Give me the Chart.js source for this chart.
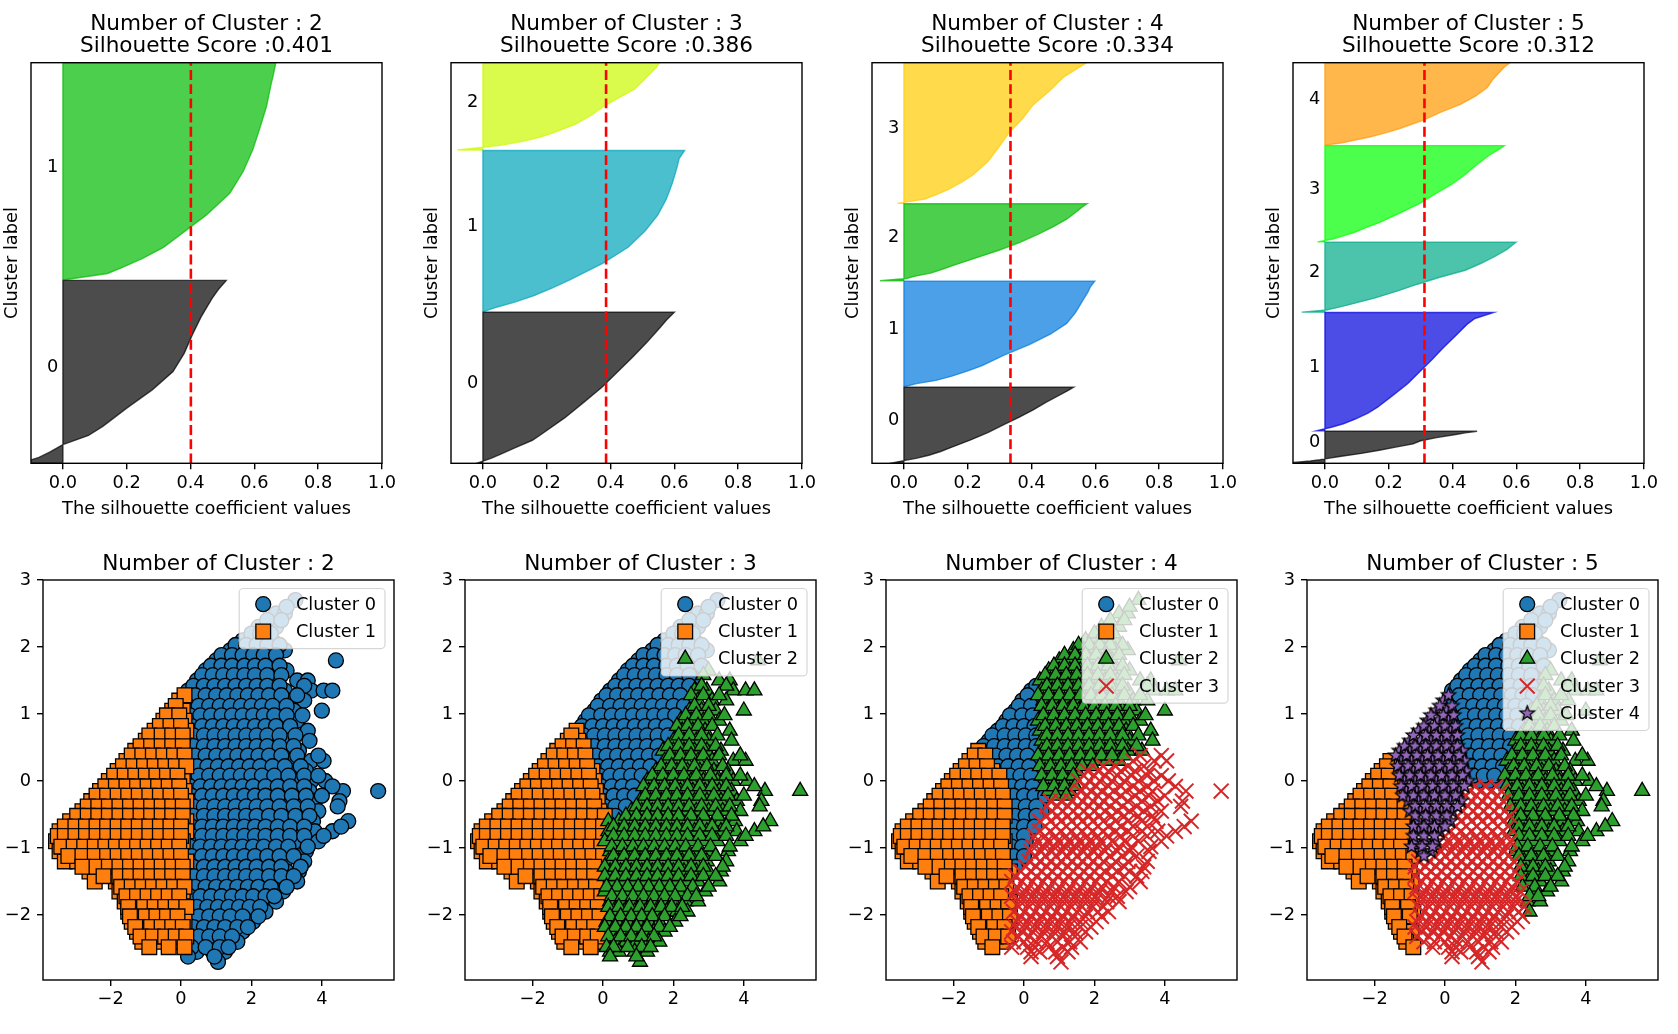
<!DOCTYPE html>
<html>
<head>
<meta charset="utf-8">
<title>Silhouette analysis for KMeans</title>
<script src="https://cdn.jsdelivr.net/npm/chart.js@4.4.1/dist/chart.umd.min.js"></script>
<style>
  html, body { margin: 0; padding: 0; background: #fff; }
  #page { position: relative; width: 1678px; height: 1034px; overflow: hidden; background: #fff; }
  #page canvas { position: absolute; }
</style>
</head>
<body>
<div id="page"></div>
<script>
// ---------- data ----------
const clusterCounts = [2, 3, 4, 5];
const silScores = [0.401, 0.386, 0.334, 0.312];
const nSamples = 8950;

// silhouette profile: sorted values sampled at these fractions of each cluster
const silQuantiles = [0, 0.03, 0.06, 0.1, 0.15, 0.2, 0.3, 0.4, 0.5, 0.6, 0.7, 0.8, 0.9, 0.95, 1];

const silSizesK2 = [4090, 4860];
const silValuesK2 = [
  [-0.13, -0.075, -0.04, 0.0, 0.08, 0.125, 0.20, 0.28, 0.345, 0.38, 0.405, 0.433, 0.467, 0.487, 0.512],
  [0.0, 0.14, 0.19, 0.25, 0.315, 0.36, 0.45, 0.523, 0.565, 0.595, 0.617, 0.638, 0.652, 0.66, 0.667]
];
const silSizesK3 = [3380, 3620, 1950];
const silValuesK3 = [
  [-0.015, 0.025, 0.058, 0.10, 0.155, 0.19, 0.257, 0.315, 0.372, 0.42, 0.468, 0.514, 0.556, 0.576, 0.60],
  [0.0, 0.045, 0.10, 0.16, 0.22, 0.274, 0.375, 0.455, 0.508, 0.548, 0.575, 0.594, 0.609, 0.615, 0.632],
  [-0.08, -0.005, 0.065, 0.125, 0.18, 0.222, 0.292, 0.34, 0.377, 0.425, 0.475, 0.503, 0.53, 0.543, 0.552]
];
const silSizesK4 = [1700, 2370, 1730, 3150];
const silValuesK4 = [
  [-0.035, 0.0, 0.038, 0.078, 0.115, 0.146, 0.207, 0.263, 0.31, 0.36, 0.405, 0.445, 0.49, 0.512, 0.532],
  [0.0, 0.04, 0.10, 0.15, 0.20, 0.245, 0.314, 0.393, 0.46, 0.51, 0.537, 0.557, 0.577, 0.585, 0.598],
  [-0.075, 0.008, 0.035, 0.084, 0.12, 0.155, 0.228, 0.30, 0.364, 0.418, 0.467, 0.51, 0.542, 0.556, 0.574],
  [-0.02, 0.065, 0.10, 0.14, 0.18, 0.215, 0.264, 0.297, 0.328, 0.37, 0.404, 0.455, 0.50, 0.535, 0.57]
];
const silSizesK5 = [710, 2660, 1570, 2165, 1845];
const silValuesK5 = [
  [-0.12, -0.08, -0.045, -0.015, 0.015, 0.046, 0.114, 0.17, 0.222, 0.276, 0.30, 0.35, 0.41, 0.44, 0.477],
  [-0.026, 0.02, 0.058, 0.095, 0.135, 0.165, 0.213, 0.26, 0.297, 0.335, 0.37, 0.408, 0.445, 0.47, 0.529],
  [-0.073, 0.005, 0.034, 0.07, 0.112, 0.155, 0.226, 0.29, 0.36, 0.44, 0.49, 0.533, 0.571, 0.585, 0.599],
  [-0.023, 0.025, 0.055, 0.093, 0.13, 0.17, 0.235, 0.297, 0.347, 0.398, 0.44, 0.475, 0.515, 0.54, 0.5625],
  [0.0, 0.055, 0.09, 0.14, 0.19, 0.232, 0.305, 0.362, 0.426, 0.473, 0.508, 0.526, 0.55, 0.562, 0.578]
];
const silTicks = [0, 0.2, 0.4, 0.6, 0.8, 1.0];

// PCA scatter: rows of points (y of the row, x of each point)
const cloudY = [2.7, 2.5, 2.3, 2.1, 1.95, 1.8, 1.65, 1.5, 1.35, 1.2, 1.05, 0.9, 0.75, 0.6, 0.45, 0.3, 0.15, 0.0,
  -0.15, -0.3, -0.45, -0.6, -0.75, -0.9, -1.05, -1.2, -1.35, -1.5, -1.65, -1.8, -1.95, -2.1, -2.25, -2.4, -2.55, -2.7];
const cloudX = [
  [3.25],
  [2.7, 2.95],
  [2.2, 2.45, 2.7],
  [1.75, 2.0, 2.3, 2.6],
  [1.4, 1.7, 2.0, 2.3, 2.6, 2.95],
  [1.0, 1.3, 1.6, 1.9, 2.2, 2.5, 4.4],
  [0.7, 1.0, 1.3, 1.6, 1.95, 2.25, 2.6, 3.0],
  [0.45, 0.75, 1.05, 1.35, 1.65, 1.95, 2.3, 2.65, 3.3, 3.6],
  [0.2, 0.5, 0.8, 1.1, 1.4, 1.7, 2.0, 2.3, 2.6, 2.95, 3.7, 4.05, 4.3],
  [-0.05, 0.25, 0.55, 0.85, 1.15, 1.45, 1.75, 2.05, 2.35, 2.7, 3.1, 3.5],
  [-0.25, 0.05, 0.35, 0.65, 0.95, 1.25, 1.55, 1.85, 2.15, 2.45, 2.8, 3.2, 4.0],
  [-0.5, -0.2, 0.1, 0.4, 0.7, 1.0, 1.3, 1.6, 1.9, 2.2, 2.5, 2.85, 3.3],
  [-0.75, -0.45, -0.15, 0.15, 0.45, 0.75, 1.05, 1.35, 1.65, 1.95, 2.25, 2.55, 2.9, 3.6],
  [-1.0, -0.7, -0.4, -0.1, 0.2, 0.5, 0.8, 1.1, 1.4, 1.7, 2.0, 2.3, 2.65, 3.0, 3.65],
  [-1.3, -1.0, -0.7, -0.4, -0.1, 0.2, 0.5, 0.8, 1.1, 1.4, 1.7, 2.0, 2.3, 2.6, 2.95, 3.35],
  [-1.55, -1.25, -0.95, -0.65, -0.35, -0.05, 0.25, 0.55, 0.85, 1.15, 1.45, 1.75, 2.05, 2.35, 2.7, 3.1, 3.7, 4.05],
  [-1.8, -1.5, -1.2, -0.9, -0.6, -0.3, 0.0, 0.3, 0.6, 0.9, 1.2, 1.5, 1.8, 2.1, 2.4, 2.75, 3.15, 3.55],
  [-2.05, -1.75, -1.45, -1.15, -0.85, -0.55, -0.25, 0.05, 0.35, 0.65, 0.95, 1.25, 1.55, 1.85, 2.15, 2.5, 2.85, 3.25, 3.7, 4.1],
  [-2.3, -2.0, -1.7, -1.4, -1.1, -0.8, -0.5, -0.2, 0.1, 0.4, 0.7, 1.0, 1.3, 1.6, 1.9, 2.2, 2.55, 2.9, 3.3, 3.65, 4.6, 5.6],
  [-2.55, -2.25, -1.95, -1.65, -1.35, -1.05, -0.75, -0.45, -0.15, 0.15, 0.45, 0.75, 1.05, 1.35, 1.65, 1.95, 2.25, 2.6, 2.95, 3.35, 3.8, 4.5],
  [-2.8, -2.5, -2.2, -1.9, -1.6, -1.3, -1.0, -0.7, -0.4, -0.1, 0.2, 0.5, 0.8, 1.1, 1.4, 1.7, 2.0, 2.3, 2.65, 3.0, 3.4, 3.9],
  [-3.15, -2.85, -2.55, -2.25, -1.95, -1.65, -1.35, -1.05, -0.75, -0.45, -0.15, 0.15, 0.45, 0.75, 1.05, 1.35, 1.65, 1.95, 2.25, 2.6, 2.95, 3.35, 3.75, 4.75],
  [-3.45, -3.15, -2.85, -2.55, -2.25, -1.95, -1.65, -1.35, -1.05, -0.75, -0.45, -0.15, 0.15, 0.45, 0.75, 1.05, 1.35, 1.65, 1.95, 2.25, 2.6, 2.95, 3.35, 3.8, 4.3],
  [-3.55, -3.25, -2.95, -2.65, -2.35, -2.05, -1.75, -1.45, -1.15, -0.85, -0.55, -0.25, 0.05, 0.35, 0.65, 0.95, 1.25, 1.55, 1.85, 2.15, 2.5, 2.85, 3.25, 3.9],
  [-3.45, -3.1, -2.8, -2.5, -2.2, -1.9, -1.6, -1.3, -1.0, -0.7, -0.4, -0.1, 0.2, 0.5, 0.8, 1.1, 1.4, 1.7, 2.0, 2.3, 2.65, 3.0, 3.55],
  [-3.3, -2.95, -2.6, -2.25, -1.95, -1.65, -1.35, -1.05, -0.75, -0.45, -0.15, 0.15, 0.45, 0.75, 1.05, 1.35, 1.65, 1.95, 2.25, 2.6, 2.95, 3.5],
  [-2.6, -2.2, -1.9, -1.6, -1.3, -1.0, -0.7, -0.4, -0.1, 0.2, 0.5, 0.8, 1.1, 1.4, 1.7, 2.0, 2.3, 2.65, 3.0, 3.35],
  [-2.45, -1.85, -1.55, -1.25, -0.95, -0.65, -0.35, -0.05, 0.25, 0.55, 0.85, 1.15, 1.45, 1.75, 2.05, 2.35, 2.7, 3.3],
  [-1.75, -1.45, -1.15, -0.85, -0.55, -0.25, 0.05, 0.35, 0.65, 0.95, 1.25, 1.55, 1.85, 2.15, 2.5, 2.9],
  [-1.6, -1.3, -1.0, -0.7, -0.4, -0.1, 0.2, 0.5, 0.8, 1.1, 1.4, 1.7, 2.0, 2.35, 2.7],
  [-1.5, -1.2, -0.9, -0.6, -0.3, 0.0, 0.3, 0.6, 0.9, 1.2, 1.5, 1.8, 2.1, 2.4],
  [-1.4, -1.1, -0.8, -0.5, -0.2, 0.1, 0.4, 0.7, 1.0, 1.3, 1.6, 2.05],
  [-1.25, -0.95, -0.65, -0.35, -0.05, 0.25, 0.55, 0.85, 1.15, 1.45, 1.75],
  [-1.1, -0.6, -0.3, 0.0, 0.35, 0.65, 0.95, 1.3, 1.6],
  [0.2, 0.45, 0.9, 1.25],
  [1.05]
];
// second layer of rows lying between the first ones
const cloudY2 = [2.6, 2.4, 2.2, 2.03, 1.88, 1.72, 1.58, 1.42, 1.28, 1.12, 0.98, 0.82, 0.68, 0.52, 0.38, 0.22, 0.08, -0.08,
  -0.22, -0.38, -0.52, -0.68, -0.82, -0.98, -1.12, -1.28, -1.42, -1.58, -1.72, -1.88, -2.02, -2.18, -2.32, -2.48, -2.62];
const cloudX2 = [
  [3.0],
  [2.45, 2.85],
  [2.0, 2.25, 2.55],
  [1.55, 1.85, 2.15, 2.45, 2.8],
  [1.15, 1.45, 1.75, 2.05, 2.35, 2.7],
  [0.85, 1.15, 1.45, 1.8, 2.1, 2.4, 2.8],
  [0.6, 0.9, 1.2, 1.5, 1.8, 2.1, 2.45, 2.85],
  [0.35, 0.65, 0.95, 1.25, 1.55, 1.85, 2.15, 2.45, 2.8, 3.5],
  [0.1, 0.4, 0.7, 1.0, 1.3, 1.6, 1.9, 2.2, 2.5, 2.85, 3.3],
  [-0.15, 0.2, 0.5, 0.8, 1.1, 1.4, 1.7, 2.0, 2.3, 2.6, 3.0],
  [-0.4, -0.05, 0.25, 0.55, 0.85, 1.15, 1.45, 1.75, 2.05, 2.35, 2.65, 3.0, 3.45],
  [-0.6, -0.3, 0.0, 0.3, 0.6, 0.9, 1.2, 1.5, 1.8, 2.1, 2.4, 2.7, 3.1],
  [-0.9, -0.55, -0.25, 0.05, 0.35, 0.65, 0.95, 1.25, 1.55, 1.85, 2.15, 2.45, 2.8, 3.25],
  [-1.15, -0.85, -0.55, -0.25, 0.05, 0.35, 0.65, 0.95, 1.25, 1.55, 1.85, 2.15, 2.45, 2.8, 3.2],
  [-1.4, -1.1, -0.8, -0.5, -0.2, 0.1, 0.4, 0.7, 1.0, 1.3, 1.6, 1.9, 2.2, 2.5, 2.85, 3.3, 3.9],
  [-1.65, -1.35, -1.05, -0.75, -0.45, -0.15, 0.15, 0.45, 0.75, 1.05, 1.35, 1.65, 1.95, 2.25, 2.6, 2.95, 3.4],
  [-1.9, -1.6, -1.3, -1.0, -0.7, -0.4, -0.1, 0.2, 0.5, 0.8, 1.1, 1.4, 1.7, 2.0, 2.3, 2.65, 3.05, 3.5, 3.9],
  [-2.15, -1.85, -1.55, -1.25, -0.95, -0.65, -0.35, -0.05, 0.25, 0.55, 0.85, 1.15, 1.45, 1.75, 2.05, 2.4, 2.75, 3.1, 3.5, 4.3],
  [-2.4, -2.1, -1.8, -1.5, -1.2, -0.9, -0.6, -0.3, 0.0, 0.3, 0.6, 0.9, 1.2, 1.5, 1.8, 2.1, 2.4, 2.75, 3.15, 3.55, 4.0],
  [-2.65, -2.35, -2.05, -1.75, -1.45, -1.15, -0.85, -0.55, -0.25, 0.05, 0.35, 0.65, 0.95, 1.25, 1.55, 1.85, 2.15, 2.45, 2.8, 3.2, 3.6, 4.45],
  [-2.95, -2.65, -2.35, -2.05, -1.75, -1.45, -1.15, -0.85, -0.55, -0.25, 0.05, 0.35, 0.65, 0.95, 1.25, 1.55, 1.85, 2.15, 2.5, 2.85, 3.25, 3.65],
  [-3.3, -3.0, -2.7, -2.4, -2.1, -1.8, -1.5, -1.2, -0.9, -0.6, -0.3, 0.0, 0.3, 0.6, 0.9, 1.2, 1.5, 1.8, 2.1, 2.4, 2.75, 3.1, 3.5, 4.55],
  [-3.5, -3.3, -3.0, -2.7, -2.4, -2.1, -1.8, -1.5, -1.2, -0.9, -0.6, -0.3, 0.0, 0.3, 0.6, 0.9, 1.2, 1.5, 1.8, 2.1, 2.4, 2.75, 3.1, 3.5, 4.05],
  [-3.4, -3.05, -2.75, -2.45, -2.15, -1.85, -1.55, -1.25, -0.95, -0.65, -0.35, -0.05, 0.25, 0.55, 0.85, 1.15, 1.45, 1.75, 2.05, 2.35, 2.7, 3.05, 3.6],
  [-3.2, -2.8, -2.45, -2.1, -1.8, -1.5, -1.2, -0.9, -0.6, -0.3, 0.0, 0.3, 0.6, 0.9, 1.2, 1.5, 1.8, 2.1, 2.45, 2.8, 3.2],
  [-2.8, -2.4, -2.05, -1.75, -1.45, -1.15, -0.85, -0.55, -0.25, 0.05, 0.35, 0.65, 0.95, 1.25, 1.55, 1.85, 2.15, 2.5, 2.85, 3.4],
  [-2.2, -1.75, -1.45, -1.15, -0.85, -0.55, -0.25, 0.05, 0.35, 0.65, 0.95, 1.25, 1.55, 1.85, 2.15, 2.5, 2.85, 3.2],
  [-1.7, -1.4, -1.1, -0.8, -0.5, -0.2, 0.1, 0.4, 0.7, 1.0, 1.3, 1.6, 1.9, 2.2, 2.55, 3.0],
  [-1.55, -1.25, -0.95, -0.65, -0.35, -0.05, 0.25, 0.55, 0.85, 1.15, 1.45, 1.75, 2.05, 2.4, 2.65],
  [-1.5, -1.05, -0.75, -0.45, -0.15, 0.15, 0.45, 0.75, 1.05, 1.35, 1.65, 1.95, 2.25],
  [-1.45, -1.0, -0.7, -0.4, -0.1, 0.2, 0.5, 0.8, 1.1, 1.4, 1.75, 2.2],
  [-1.3, -0.85, -0.55, -0.25, 0.05, 0.35, 0.65, 0.95, 1.25, 1.6, 1.9],
  [-1.15, -0.8, -0.45, -0.15, 0.15, 0.5, 0.8, 1.1, 1.45],
  [-0.9, -0.35, 0.1, 0.3, 0.7, 1.1, 1.35],
  [0.2, 0.95]
];
const scatterXTicks = [-2, 0, 2, 4];
const scatterYTicks = [-2, -1, 0, 1, 2, 3];

// cluster centres seen in each scatter (x, y, cluster); a point joins the nearest one
const seedsK2 = [[-1.0, 0, 1], [1.3, 0, 0]];
const seedsK3 = [[-1.18, -0.33, 1], [-1.0, -1.6, 1], [0.58, 0.7, 0], [1.0, -1.6, 2], [1.93, -0.64, 2]];
const seedsK4 = [[-0.95, -0.66, 1], [-0.75, -2.0, 1], [-0.1, -0.6, 0], [-0.05, 0.6, 0], [0.75, 0.6, 2],
  [2.3, 0.75, 2], [0.63, -1.1, 3], [2.45, -0.25, 3], [0.05, -2.0, 3]];
const seedsK5 = [[-1.62, -0.31, 1], [-1.3, -1.9, 1], [-0.92, 0.07, 4], [0.18, 0.22, 4], [-0.25, -0.43, 4],
  [0.9, 0.54, 0], [1.57, 0.72, 0], [1.15, 0.35, 0], [2.17, 0.2, 2], [2.37, -1.06, 2],
  [-0.5, -1.9, 3], [0.25, -1.05, 3], [1.15, -0.35, 3], [1.63, -1.34, 3]];

const silSizes = [silSizesK2, silSizesK3, silSizesK4, silSizesK5];
const silValues = [silValuesK2, silValuesK3, silValuesK4, silValuesK5];
const seeds = [seedsK2, seedsK3, seedsK4, seedsK5];

// ---------- styling ----------
// nipy_spectral(i / k)
const silColors = [
  ['0,0,0', '0,187,0'],
  ['0,0,0', '0,164,187', '204,249,0'],
  ['0,0,0', '0,119,221', '0,187,0', '255,204,0'],
  ['0,0,0', '0,0,221', '0,170,136', '0,255,0', '255,153,0']
];
const markerColors = ['#1f77b4', '#ff7f0e', '#2ca02c', '#d62728', '#9467bd'];

function makeStar(r) {
  const c = document.createElement('canvas');
  const s = Math.ceil(r * 2 + 4);
  c.width = s; c.height = s;
  const g = c.getContext('2d');
  g.translate(s / 2, s / 2);
  g.beginPath();
  for (let i = 0; i < 10; i++) {
    const rr = i % 2 ? r * 0.42 : r;
    const a = -Math.PI / 2 + i * Math.PI / 5;
    g.lineTo(rr * Math.cos(a), rr * Math.sin(a));
  }
  g.closePath();
  g.fillStyle = markerColors[4];
  g.fill();
  g.lineWidth = 1.3;
  g.strokeStyle = '#000';
  g.stroke();
  return c;
}
const markerStyles = ['circle', 'rect', 'triangle', 'crossRot', makeStar(7.5)];
const markerRadii = [7.5, 10.4, 8.7, 10.5, 7.5];

Chart.defaults.font.family = "'DejaVu Sans', sans-serif";
Chart.defaults.color = '#000';

const FS = 17.8;       // tick / label size
const TITLE_FS = 21.6;
const topLefts = [30.7, 450.7, 872.3, 1293];
const botLefts = [43.3, 465, 885.7, 1307.3];
const AXW = 351;

const page = document.getElementById('page');
function addCanvas(left, top, w, h) {
  const c = document.createElement('canvas');
  c.width = w; c.height = h;
  c.style.left = left + 'px';
  c.style.top = top + 'px';
  c.style.width = w + 'px';
  c.style.height = h + 'px';
  page.appendChild(c);
  return c;
}

const tickGrid = { display: true, drawOnChartArea: false, drawTicks: true, tickLength: 6, color: '#000', lineWidth: 1.4 };

const framePlugin = {
  id: 'frame',
  afterDatasetsDraw(chart) {
    const { ctx, chartArea: a } = chart;
    ctx.save();
    ctx.strokeStyle = '#000';
    ctx.lineWidth = 1.4;
    ctx.strokeRect(a.left, a.top, a.right - a.left, a.bottom - a.top);
    ctx.restore();
  }
};

function clusterTextPlugin(items) {
  return {
    id: 'clusterText',
    afterDatasetsDraw(chart) {
      const { ctx, scales } = chart;
      ctx.save();
      ctx.font = FS + "px 'DejaVu Sans'";
      ctx.fillStyle = '#000';
      ctx.textAlign = 'left';
      ctx.textBaseline = 'alphabetic';
      items.forEach(it => ctx.fillText(it.text, scales.x.getPixelForValue(it.x), scales.y.getPixelForValue(it.y)));
      ctx.restore();
    }
  };
}

const legendPlugin = {
  id: 'clusterLegend',
  afterDraw(chart) {
    const { ctx, chartArea } = chart;
    const ds = chart.data.datasets;
    ctx.save();
    ctx.font = FS + "px 'DejaVu Sans'";
    let textW = 0;
    ds.forEach(d => { textW = Math.max(textW, ctx.measureText(d.label).width); });
    const w = 56.7 + textW + 9;
    const h = 27.3 * ds.length + 5.5;
    const x0 = chartArea.right - 9 - w;
    const y0 = chartArea.top + 8.5;
    ctx.beginPath();
    if (ctx.roundRect) ctx.roundRect(x0, y0, w, h, 4); else ctx.rect(x0, y0, w, h);
    ctx.fillStyle = 'rgba(255,255,255,0.8)';
    ctx.fill();
    ctx.strokeStyle = 'rgba(204,204,204,0.8)';
    ctx.lineWidth = 1.2;
    ctx.stroke();
    ds.forEach((d, i) => {
      const cy = y0 + 15.7 + 27.3 * i;
      ctx.fillStyle = d.pointBackgroundColor;
      ctx.strokeStyle = d.pointBorderColor;
      ctx.lineWidth = d.pointBorderWidth;
      Chart.helpers.drawPoint(ctx, { pointStyle: d.pointStyle, radius: d.pointRadius, rotation: 0, borderWidth: d.pointBorderWidth }, x0 + 24, cy);
      ctx.fillStyle = '#000';
      ctx.textAlign = 'left';
      ctx.textBaseline = 'middle';
      ctx.fillText(d.label, x0 + 56.7, cy + 1);
    });
    ctx.restore();
  }
};

// ---------- silhouette plots (top row) ----------
function silhouetteChart(j) {
  const k = clusterCounts[j];
  const sizes = silSizes[j];
  const vals = silValues[j];
  const cols = silColors[j];
  const datasets = [];
  const labels = [];
  let yLower = 10;
  for (let i = 0; i < k; i++) {
    const size = sizes[i];
    const pts = [{ x: 0, y: yLower }];
    silQuantiles.forEach((q, n) => pts.push({ x: vals[i][n], y: yLower + q * size }));
    pts.push({ x: 0, y: yLower + size });
    pts.push({ x: 0, y: yLower });
    datasets.push({
      data: pts, showLine: true, fill: 'shape', tension: 0,
      backgroundColor: 'rgba(' + cols[i] + ',0.7)', borderColor: 'rgba(' + cols[i] + ',0.7)',
      borderWidth: 1.4, pointRadius: 0, clip: 0, order: 10 + i
    });
    labels.push({ x: -0.05, y: yLower + 0.5 * size, text: String(i) });
    yLower += size + 10;
  }
  const yMax = nSamples + (k + 1) * 10;
  datasets.push({
    data: [{ x: silScores[j], y: 0 }, { x: silScores[j], y: yMax }],
    showLine: true, fill: false, borderColor: '#ff0000', borderDash: [9.9, 4.3], borderWidth: 2.6,
    pointRadius: 0, clip: 0, order: 0
  });

  const L = Math.round(topLefts[j]);
  const c = addCanvas(L - 60, 0, 60 + AXW + 25, 530);
  new Chart(c, {
    type: 'scatter',
    data: { datasets },
    plugins: [framePlugin, clusterTextPlugin(labels)],
    options: {
      responsive: false, animation: false, events: [], devicePixelRatio: 1,
      layout: { padding: { left: 0, right: 25, top: 0, bottom: 0 } },
      plugins: {
        legend: { display: false }, tooltip: { enabled: false },
        title: {
          display: true, fullSize: false, color: '#000',
          text: ['Number of Cluster : ' + k, 'Silhouette Score :' + silScores[j].toFixed(3)],
          font: { size: TITLE_FS, weight: 'normal', lineHeight: 1.037 },
          padding: { top: 12.8, bottom: 5.1 }
        }
      },
      scales: {
        x: {
          type: 'linear', min: -0.1, max: 1.0,
          afterBuildTicks: s => { s.ticks = silTicks.map(v => ({ value: v })); },
          afterFit: s => { s.height = 66.7; },
          ticks: { autoSkip: false, maxRotation: 0, padding: 3, font: { size: FS }, color: '#000', callback: v => Number(v).toFixed(1) },
          grid: tickGrid, border: { display: false },
          title: { display: true, text: 'The silhouette coefficient values', color: '#000', font: { size: FS }, padding: { top: 0, bottom: 9.5 } }
        },
        y: {
          type: 'linear', min: 0, max: yMax,
          afterFit: s => { s.width = 60; },
          ticks: { display: false }, grid: { display: false }, border: { display: false },
          title: { display: true, text: 'Cluster label', color: '#000', font: { size: FS }, padding: { top: 30.6, bottom: 0 } }
        }
      }
    }
  });
}

// ---------- cluster scatter plots (bottom row) ----------
const cloud = [];
cloudY.forEach((y, r) => cloudX[r].forEach(x => cloud.push({ x, y })));
cloudY2.forEach((y, r) => cloudX2[r].forEach(x => cloud.push({ x, y })));

function nearestCluster(p, seedList) {
  let best = 0, bd = Infinity;
  seedList.forEach(([sx, sy, lab]) => {
    const d = (p.x - sx) * (p.x - sx) + (p.y - sy) * (p.y - sy);
    if (d < bd) { bd = d; best = lab; }
  });
  return best;
}

function minusFmt(v) { return v < 0 ? '\u2212' + Math.abs(v) : String(v); }

function scatterChart(j) {
  const k = clusterCounts[j];
  const groups = Array.from({ length: k }, () => []);
  cloud.forEach(p => groups[nearestCluster(p, seeds[j])].push(p));
  const datasets = groups.map((pts, i) => ({
    label: 'Cluster ' + i,
    data: pts,
    pointStyle: markerStyles[i],
    pointRadius: markerRadii[i],
    pointBackgroundColor: markerColors[i],
    pointBorderColor: i === 3 ? markerColors[3] : '#000',
    pointBorderWidth: i === 3 ? 2.0 : 1.3,
    order: k - 1 - i,
    clip: 0
  }));

  const L = Math.round(botLefts[j]);
  const c = addCanvas(L - 45, 530, 45 + AXW + 25, 504);
  new Chart(c, {
    type: 'scatter',
    data: { datasets },
    plugins: [framePlugin, legendPlugin],
    options: {
      responsive: false, animation: false, events: [], devicePixelRatio: 1,
      layout: { padding: { left: 0, right: 25, top: 0, bottom: 0 } },
      plugins: {
        legend: { display: false }, tooltip: { enabled: false },
        title: {
          display: true, fullSize: false, color: '#000',
          text: 'Number of Cluster : ' + k,
          font: { size: TITLE_FS, weight: 'normal', lineHeight: 1.037 },
          padding: { top: 22.8, bottom: 4.8 }
        }
      },
      scales: {
        x: {
          type: 'linear', min: -3.92, max: 6.05,
          afterBuildTicks: s => { s.ticks = scatterXTicks.map(v => ({ value: v })); },
          afterFit: s => { s.height = 54; },
          ticks: { autoSkip: false, maxRotation: 0, padding: 3, font: { size: FS }, color: '#000', callback: v => minusFmt(v) },
          grid: tickGrid, border: { display: false }
        },
        y: {
          type: 'linear', min: -2.97, max: 3.0,
          afterBuildTicks: s => { s.ticks = scatterYTicks.map(v => ({ value: v })); },
          afterFit: s => { s.width = 45; },
          ticks: { autoSkip: false, padding: 6, font: { size: FS }, color: '#000', callback: v => minusFmt(v) },
          grid: tickGrid, border: { display: false }
        }
      }
    }
  });
}

for (let j = 0; j < clusterCounts.length; j++) {
  silhouetteChart(j);
  scatterChart(j);
}
</script>
</body>
</html>
